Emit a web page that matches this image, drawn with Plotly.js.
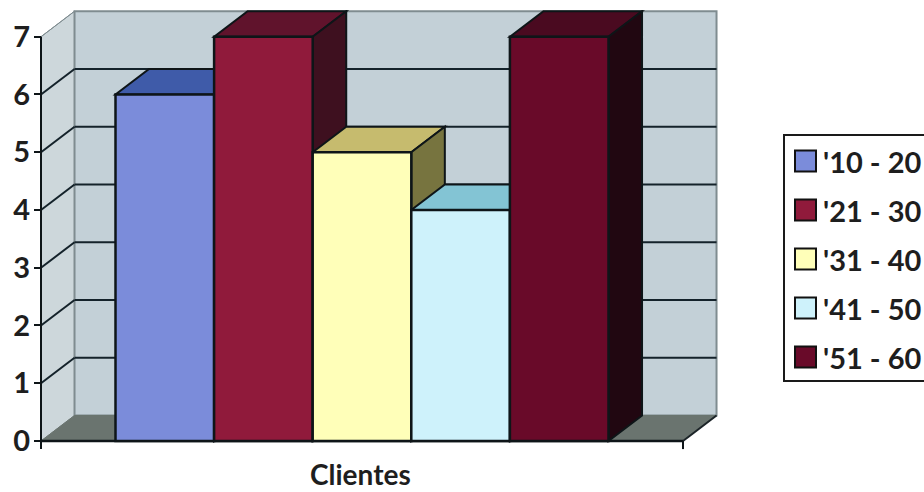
<!DOCTYPE html>
<html>
<head>
<meta charset="utf-8">
<script src="https://cdn.plot.ly/plotly-3.0.1.min.js"></script>
<style>html,body{margin:0;padding:0;background:#fff;overflow:hidden}#c{width:924px;height:492px}</style>
</head>
<body>
<div id="c"></div>
<script>
// Data
const seriesNames = ["'10 - 20", "'21 - 30", "'31 - 40", "'41 - 50", "'51 - 60"];
const seriesValues = [6, 7, 5, 4, 7];
const yTicks = [0, 1, 2, 3, 4, 5, 6, 7];
const categoryLabel = "Clientes";

// Styles
const frontColors = ["#7b8cda", "#901a3b", "#ffffb9", "#cef2fb", "#690a29"];
const topColors = ["#3f5ba9", "#60132c", "#c6bb6e", "#83c4d4", "#4a0a20"];
const sideColors = ["#2a3a6a", "#3e101f", "#77743f", "#5f8f9a", "#210711"];
const EDGE = "#0e1518", GRID = "#14222a", WALL = "#c3d0d7", SIDEWALL = "#cdd7db",
      WALLEDGE = "#7f8c90", FLOOR = "#6a746f", TXT = "#1e1e1e";
const FONT = "Lato, 'Noto Sans', sans-serif";

// 3D frame, in axis units
const dX = 0.34, dY = 0.4416;
const xL = -1.2556, xR = 5.2556, half = 0.5, yMax = 7;

const poly = (pts, fill, lineColor, lineWidth) => ({
  type: "path", layer: "below", xref: "x", yref: "y",
  path: "M" + pts.map(p => p[0] + " " + p[1]).join("L") + "Z",
  fillcolor: fill, line: {color: lineColor || fill, width: lineWidth === undefined ? 1 : lineWidth}
});
const seg = (x0, y0, x1, y1, color, width) => ({
  type: "line", layer: "below", xref: "x", yref: "y", x0, y0, x1, y1,
  line: {color, width}
});

const shapes = [];
// walls and floor
shapes.push(poly([[xL, 0], [xL + dX, dY], [xL + dX, yMax + dY], [xL, yMax]], SIDEWALL, WALLEDGE, 1));
shapes.push(poly([[xL + dX, dY], [xR + dX, dY], [xR + dX, yMax + dY], [xL + dX, yMax + dY]], WALL, WALLEDGE, 2));
shapes.push(poly([[xL, 0], [xR, 0], [xR + dX, dY], [xL + dX, dY]], FLOOR, FLOOR, 1));
// gridlines
yTicks.filter(v => v > 0 && v < yMax).forEach(v => {
  shapes.push(seg(xL, v, xL + dX, v + dY, GRID, 2));
  shapes.push(seg(xL + dX, v + dY, xR + dX, v + dY, GRID, 2));
});
shapes.push(seg(xL, yMax, xL + dX, yMax + dY, WALLEDGE, 1));
shapes.push(seg(xR, 0, xR + dX, dY, "#1c2428", 2));
// bar depth faces, left to right
seriesValues.forEach((v, i) => {
  const a = i - half, b = i + half;
  shapes.push(poly([[a, v], [b, v], [b + dX, v + dY], [a + dX, v + dY]], topColors[i], EDGE, 2));
  shapes.push(poly([[b, 0], [b + dX, dY], [b + dX, v + dY], [b, v]], sideColors[i], EDGE, 2));
});
// axis lines
shapes.push(seg(xL, -0.14, xL, yMax, EDGE, 2));
shapes.push(seg(xL, 0, xR, 0, EDGE, 2.5));
shapes.push(seg(xR, -0.14, xR, 0, EDGE, 2));

// Legend block, paper coordinates
const L = 34, T = 10, PW = 684, PH = 440;
const px = x => (x - L) / PW, py = y => 1 - (y - T) / PH;
const annotations = [{
  xref: "x", yref: "paper", x: 1.98, y: py(474), text: categoryLabel, showarrow: false,
  xanchor: "center", yanchor: "middle", font: {family: FONT, size: 28, color: TXT, weight: 700}
}];
shapes.push({type: "rect", xref: "paper", yref: "paper", x0: px(784), x1: px(940), y0: py(135), y1: py(381),
  fillcolor: "#ffffff", line: {color: "#1a1a1a", width: 2}});
seriesNames.forEach((name, i) => {
  const cy = 161 + 49 * i;
  shapes.push({type: "rect", xref: "paper", yref: "paper", x0: px(795), x1: px(816), y0: py(cy + 10.5), y1: py(cy - 10.5),
    fillcolor: frontColors[i], line: {color: "#111", width: 2}});
  annotations.push({xref: "paper", yref: "paper", x: px(821), y: py(cy), text: name, showarrow: false,
    xanchor: "left", yanchor: "middle", font: {family: FONT, size: 29, color: TXT, weight: 700}});
});

const traces = seriesNames.map((name, i) => ({
  type: "bar", name, x: [i], y: [seriesValues[i]], width: 1,
  marker: {color: frontColors[i], line: {color: EDGE, width: 2.5}},
  showlegend: false
}));

Plotly.newPlot("c", traces, {
  width: 924, height: 492,
  margin: {l: L, r: 206, t: T, b: 42, pad: 0},
  paper_bgcolor: "#fff", plot_bgcolor: "rgba(0,0,0,0)",
  barmode: "overlay", showlegend: false,
  xaxis: {range: [-1.3266, 5.6105], showgrid: false, zeroline: false, showline: false, showticklabels: false, ticks: ""},
  yaxis: {range: [-0.156, 7.463], tickvals: yTicks, ticks: "inside", ticklen: 7, tickwidth: 2, tickcolor: EDGE,
    showgrid: false, zeroline: false, showline: false, ticklabelstandoff: 3,
    tickfont: {family: FONT, size: 29, color: TXT, weight: 700}},
  shapes, annotations
}, {displayModeBar: false, staticPlot: true});
</script>
</body>
</html>
